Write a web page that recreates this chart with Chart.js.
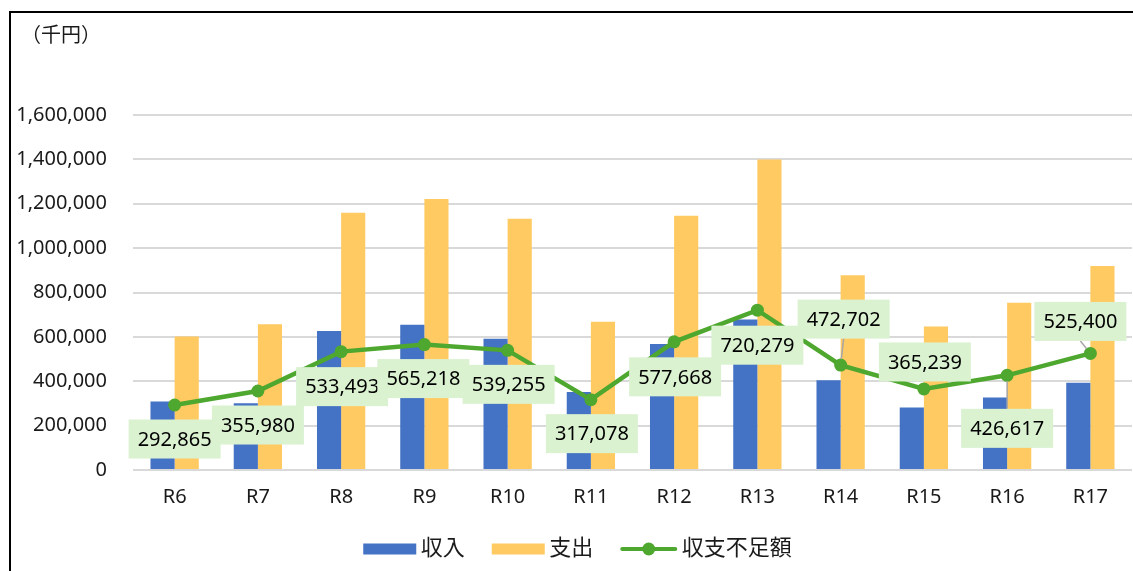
<!DOCTYPE html>
<html lang="ja">
<head>
<meta charset="utf-8">
<title>収支不足額の推移</title>
<script src="https://cdn.jsdelivr.net/npm/chart.js@4.4.1/dist/chart.umd.min.js"></script>
<style>
  html, body { margin: 0; padding: 0; background: #fff; overflow: hidden; }
  .frame { position: absolute; left: 9px; top: 11px; width: 1140px; height: 560px; border: 2px solid #000; }
  .frame canvas { display: block; }
</style>
</head>
<body>
<div class="frame"><canvas id="BalanceChart" width="1140" height="560"></canvas></div>
<script>
// fiscal years (令和)
const years = ["R6", "R7", "R8", "R9", "R10", "R11", "R12", "R13", "R14", "R15", "R16", "R17"];

// 千円
const income = [309000, 301000, 626000, 655000, 592000, 351000, 568000, 678000, 405000, 282000, 327000, 393000];
const expense = [602000, 657000, 1160000, 1221000, 1132000, 668000, 1146000, 1399000, 878000, 647000, 754000, 919000];
const shortfall = [292865, 355980, 533493, 565218, 539255, 317078, 577668, 720279, 472702, 365239, 426617, 525400];

const yMax = 1600000;
const yStep = 200000;

// where each value box sits relative to its point: [dx, dy, draw leader line]
const labelOffsets = [
    [0, 34], [0, 34], [1, 35], [-1, 34], [1, 34], [1, 34],
    [1, 35], [0, 35], [3, -46, true], [1, -27], [0, 53, true], [-10, -32, true]
];

const fontFamily = '"Noto Sans", "Noto Sans CJK JP", sans-serif';
const textColor = "#1a1a1a";
const blue = "#4472C4";
const yellow = "#FFCA61";
const green = "#4EA72E";

const fmt = v => v.toLocaleString("en-US");

// （千円） in the top-left corner
const unitLabel = {
    id: "unitLabel",
    afterDraw(chart) {
        const ctx = chart.ctx;
        ctx.save();
        ctx.font = `20px ${fontFamily}`;
        ctx.fillStyle = textColor;
        ctx.textBaseline = "middle";
        ctx.fillText("（千円）", 10, 23);
        ctx.restore();
    }
};

// green boxes with the shortfall values
const shortfallLabels = {
    id: "shortfallLabels",
    afterDatasetsDraw(chart) {
        const meta = chart.getDatasetMeta(2);
        const ctx = chart.ctx;
        ctx.save();
        ctx.font = `20px ${fontFamily}`;
        ctx.textAlign = "center";
        ctx.textBaseline = "middle";
        meta.data.forEach((pt, i) => {
            const [dx, dy, leader] = labelOffsets[i];
            const text = fmt(shortfall[i]);
            const w = ctx.measureText(text).width + 18;
            const h = 39;
            const cx = pt.x + dx;
            const cy = pt.y + dy;
            if (leader) {
                const ey = dy > 0 ? cy - h / 2 : cy + h / 2;
                const ang = Math.atan2(ey - pt.y, cx - pt.x);
                ctx.strokeStyle = "#a6a6a6";
                ctx.lineWidth = 1.5;
                ctx.beginPath();
                ctx.moveTo(pt.x + Math.cos(ang) * 6, pt.y + Math.sin(ang) * 6);
                ctx.lineTo(cx, ey);
                ctx.stroke();
            }
            ctx.fillStyle = "#DAF2D0";
            ctx.fillRect(cx - w / 2, cy - h / 2, w, h);
            ctx.fillStyle = "#000";
            ctx.fillText(text, cx, cy + 1);
        });
        ctx.restore();
    }
};

// legend row under the axis
const legendRow = {
    id: "legendRow",
    afterDraw(chart) {
        const ctx = chart.ctx;
        const sets = chart.data.datasets;
        ctx.save();
        ctx.font = `22px ${fontFamily}`;
        ctx.textBaseline = "middle";
        const items = sets.map(ds => ({
            ds,
            sw: ds.type === "line" ? 57 : 53,
            tw: ctx.measureText(ds.label).width
        }));
        const textGap = 4.5, itemGap = 27;
        const total = items.reduce((s, it) => s + it.sw + textGap + it.tw, 0) + itemGap * (items.length - 1);
        let x = chart.width / 2 - 3.5 - total / 2;
        const y = 536;
        items.forEach(it => {
            if (it.ds.type === "line") {
                ctx.strokeStyle = it.ds.borderColor;
                ctx.lineWidth = 4;
                ctx.lineCap = "round";
                ctx.beginPath();
                ctx.moveTo(x + 2, y);
                ctx.lineTo(x + it.sw - 2, y);
                ctx.stroke();
                ctx.fillStyle = it.ds.borderColor;
                ctx.beginPath();
                ctx.arc(x + it.sw / 2, y, 6.5, 0, Math.PI * 2);
                ctx.fill();
            } else {
                ctx.fillStyle = it.ds.backgroundColor;
                ctx.fillRect(x, y - 5.5, it.sw, 11);
            }
            x += it.sw + textGap;
            ctx.fillStyle = textColor;
            ctx.fillText(it.ds.label, x, y);
            x += it.tw + itemGap;
        });
        ctx.restore();
    }
};

const balance_context = document.getElementById("BalanceChart").getContext("2d");
new Chart(balance_context, {
    type: "bar",
    data: {
        labels: years,
        datasets: [
            {
                label: "収入",
                data: income,
                backgroundColor: blue,
                categoryPercentage: 0.58,
                barPercentage: 1,
                order: 1
            },
            {
                label: "支出",
                data: expense,
                backgroundColor: yellow,
                categoryPercentage: 0.58,
                barPercentage: 1,
                order: 1
            },
            {
                type: "line",
                label: "収支不足額",
                data: shortfall,
                borderColor: green,
                backgroundColor: green,
                borderWidth: 4.5,
                pointRadius: 6.5,
                pointHoverRadius: 6.5,
                pointBorderWidth: 0,
                tension: 0,
                order: 0
            }
        ]
    },
    options: {
        responsive: false,
        animation: false,
        layout: { padding: { top: 102, left: 4, right: 19, bottom: 57 } },
        plugins: {
            legend: { display: false },
            tooltip: { enabled: false }
        },
        scales: {
            x: {
                grid: { display: false },
                border: { display: false },
                ticks: {
                    color: textColor,
                    font: { size: 20, family: fontFamily },
                    padding: 7
                }
            },
            y: {
                min: 0,
                max: yMax,
                grid: { color: "#d9d9d9", lineWidth: 2, drawTicks: false },
                border: { display: false },
                ticks: {
                    stepSize: yStep,
                    color: textColor,
                    font: { size: 20, family: fontFamily },
                    padding: 26,
                    callback: v => fmt(v)
                },
                afterFit: scale => { scale.width = 118; }
            }
        }
    },
    plugins: [unitLabel, shortfallLabels, legendRow]
});
</script>
</body>
</html>
